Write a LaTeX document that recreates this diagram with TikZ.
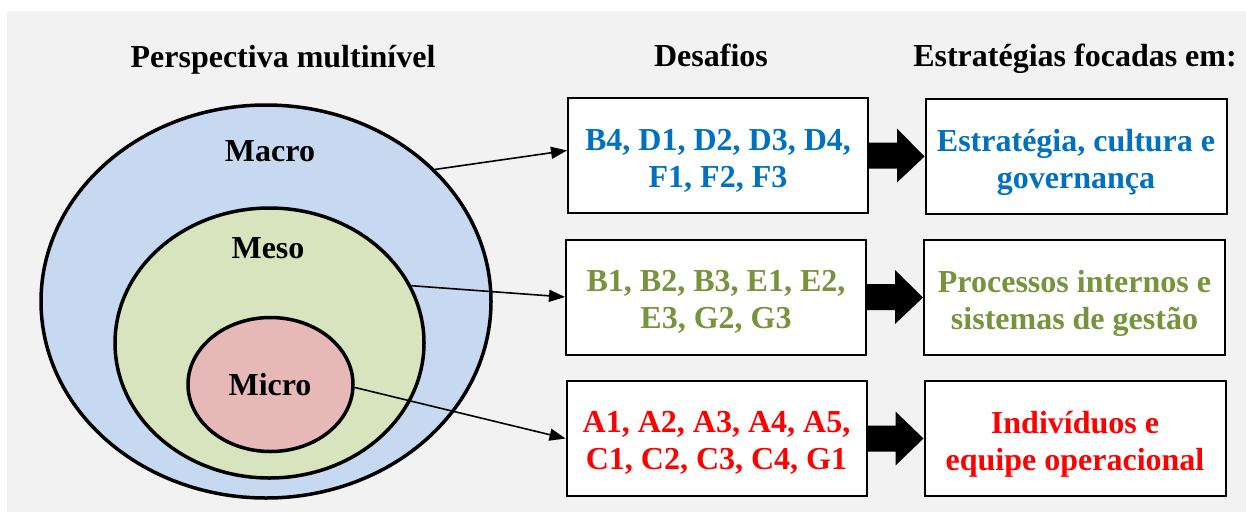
\documentclass[tikz,border=0pt]{standalone}
\usepackage{fontspec}
\setmainfont{Liberation Serif}
\usetikzlibrary{arrows.meta,calc,shapes.geometric}
\definecolor{bgc}{HTML}{F2F2F2}
\definecolor{macroc}{HTML}{C6D9F1}
\definecolor{mesoc}{HTML}{D7E4BD}
\definecolor{microc}{HTML}{E6B9B8}
\definecolor{tblue}{HTML}{0070C0}
\definecolor{tgreen}{HTML}{77933C}
\definecolor{tred}{HTML}{FF0000}
\begin{document}
\begin{tikzpicture}[x=1pt,y=-1pt,
  lvl/.style={ellipse, draw=black, line width=3.5pt, inner sep=0pt},
  lbl/.style={font=\fontsize{32}{37}\selectfont\bfseries, inner sep=0pt},
  box/.style={draw=black, line width=2pt, fill=white, minimum width=300pt,
    minimum height=115pt, inner sep=0pt},
  boxtext/.style={align=center, inner sep=0pt,
    font=\fontsize{32}{37}\selectfont\bfseries},
  link/.style={line width=1.6pt, -{Triangle[length=16pt,width=12pt]}},
  blockarrow/.style={fill=black}
  ]
\useasboundingbox (0,0) rectangle (1246,512);
\fill[bgc] (7,11) rectangle (1246,512);

% titles
\node[lbl, anchor=base] (t1) at (283,67) {Perspectiva multinível};
\node[lbl, anchor=base] (t2) at (711,66) {Desafios};
\node[lbl, anchor=base] (t3) at (1075,66) {Estratégias focadas em:};

% nested levels
\node[lvl, fill=macroc, minimum width=450pt, minimum height=393pt] (macro) at (266,301.5) {};
\node[lvl, fill=mesoc, minimum width=309pt, minimum height=270pt] (meso) at (269.5,343) {};
\node[lvl, fill=microc, minimum width=165pt, minimum height=134pt] (micro) at (270.5,384.5) {};
\node[lbl] (lmacro) at (270,151) {Macro};
\node[lbl] (lmeso) at (268,248) {Meso};
\node[lbl] (lmicro) at (270,385) {Micro};

% challenge boxes
\node[box] (d1) at (718,155.5) {};
\node[box] (d2) at (716,297) {};
\node[box] (d3) at (716.5,438.5) {};
\node[boxtext, text=tblue] (d1t) at ($(d1.center)+(0,5)$) {B4, D1, D2, D3, D4,\\F1, F2, F3};
\node[boxtext, text=tgreen] (d2t) at ($(d2.center)+(0,5)$) {B1, B2, B3, E1, E2,\\E3, G2, G3};
\node[boxtext, text=tred] (d3t) at ($(d3.center)+(0,4)$) {A1, A2, A3, A4, A5,\\C1, C2, C3, C4, G1};

% strategy boxes
\node[box, minimum width=301pt] (s1) at (1076,156.5) {};
\node[box, minimum width=301pt] (s2) at (1074.5,297.5) {};
\node[box, minimum width=301pt] (s3) at (1075,438.5) {};
\node[boxtext, text=tblue] (s1t) at ($(s1.center)+(0,6)$) {Estratégia, cultura e\\governança};
\node[boxtext, text=tgreen] (s2t) at ($(s2.center)+(0,6)$) {Processos internos e\\sistemas de gestão};
\node[boxtext, text=tred] (s3t) at ($(s3.center)+(0,6)$) {Indivíduos e\\equipe operacional};

% connectors
\draw[link] (macro.38) -- ($(d1.west)+(0,-5)$);
\draw[link] (meso.22) -- (d2.west);
\draw[link] (micro.-2) -- (d3.west);

% block arrows
\foreach \a/\b in {d1/s1,d2/s2,d3/s3}{
  \fill[blockarrow] ($(\a.east)+(0,-13)$) -- ($(\a.east)+(28,-13)$) -- ($(\a.east)+(28,-27)$)
    -- ($(\a.east)!1!(\b.west)$) -- ($(\a.east)+(28,27)$) -- ($(\a.east)+(28,13)$)
    -- ($(\a.east)+(0,13)$) -- cycle;
}
\end{tikzpicture}
\end{document}
